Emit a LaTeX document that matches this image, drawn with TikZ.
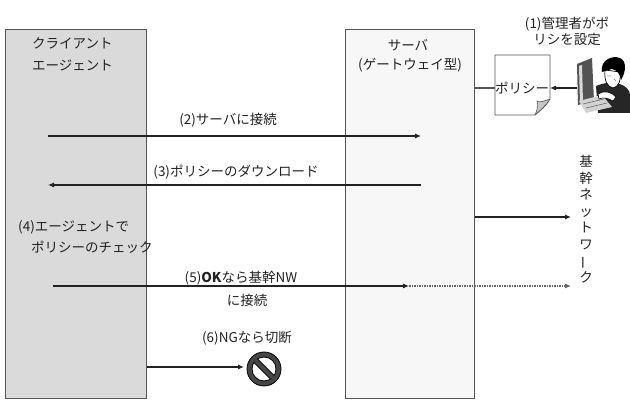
\documentclass[tikz,border=0pt]{standalone}
\usepackage{fontspec}
\setmainfont{Noto Sans CJK JP}
\usetikzlibrary{arrows.meta}
\definecolor{edge}{HTML}{555555}
\definecolor{ink}{HTML}{222222}
\definecolor{clientfill}{HTML}{DADADA}
\definecolor{serverfill}{HTML}{F7F7F7}
\tikzset{
  lbl/.style={font=\fontsize{13.5}{16}\selectfont, text=ink, inner sep=0pt},
  bigbox/.style={draw=edge, line width=1pt, inner sep=0pt, anchor=north west},
  flow/.style={draw=ink, line width=1.1pt, -{Latex[length=6pt,width=5pt]}},
  plain/.style={draw=edge, line width=1.1pt},
  dots/.style={line width=1.1pt, dash pattern=on 1.5pt off 1pt, -{Latex[length=6pt,width=5pt]}, color=gray!80!black},
}
\begin{document}
\begin{tikzpicture}[x=1pt,y=-1pt]
\useasboundingbox (0,0) rectangle (630,403);

% the two columns
\node[bigbox, fill=clientfill, minimum width=141pt, minimum height=369pt] (client) at (5,29) {};
\node[bigbox, fill=serverfill, minimum width=129pt, minimum height=369pt] (server) at (345,29) {};

\node[lbl, anchor=west] (cl1) at (32,43) {クライアント};
\node[lbl, anchor=west] (cl2) at (32,65) {エージェント};
\node[lbl] (sv1) at (408,45) {サーバ};
\node[lbl] (sv2) at (410,65) {(ゲートウェイ型)};

% administrator and policy document
\node[lbl, align=center] (adm) at (567,31) {(1)管理者がポ\\リシを設定};

\fill[white] (495,55) -- (550,55) -- (550,99) .. controls (546,106) and (541,110) .. (535,115) -- (495,115) -- cycle;
\fill[gray!45] (550,99) .. controls (544,101) and (540,103) .. (537,101) .. controls (538,107) and (537,111) .. (535,115) .. controls (541,110) and (546,106) .. (550,99) -- cycle;
\draw[edge, line width=0.8pt] (495,55) -- (550,55) -- (550,99) .. controls (546,106) and (541,110) .. (535,115) -- (495,115) -- cycle;
\draw[edge, line width=0.6pt] (550,99) .. controls (544,101) and (540,103) .. (537,101) .. controls (538,107) and (537,111) .. (535,115);
\node[lbl] (doc) at (522,88) {ポリシー};
\coordinate (docw) at (495,88);
\coordinate (doce) at (550,88);

% administrator at the keyboard
\fill[gray!65!black] (577,64) -- (592,58) -- (594,101) -- (578,105) -- cycle;
\fill[gray!30] (579,66) -- (582,65) -- (583,102) -- (580,103) -- cycle;
\fill[black!85] (596,86) .. controls (615,78) and (630,86) .. (630,95) -- (630,113) -- (598,113) -- cycle;
\fill[gray!35] (579,101) -- (602,95) -- (612,107) -- (586,113) -- cycle;
\draw[gray!70!black, line width=0.5pt] (583,104) -- (604,99) (586,108) -- (607,103);
\draw[black, line width=0.6pt, fill=white] (598,94) .. controls (604,90) and (612,92) .. (616,97) -- (613,101) .. controls (608,98) and (603,97) .. (599,99) -- cycle;
\draw[black, line width=0.7pt, fill=white] (605,70) .. controls (604,80) and (607,87) .. (613,88) .. controls (619,87) and (621,80) .. (620,72) -- cycle;
\fill[black] (602,72) .. controls (600,60) and (612,55) .. (620,58) .. controls (627,61) and (626,72) .. (621,80) .. controls (620,74) and (617,70) .. (612,69) .. controls (608,70) and (605,71) .. (602,72) -- cycle;
\draw[gray, line width=0.5pt] (607,76) -- (611,76) (614,79) -- (616,81);
\coordinate (admw) at (577,88);

\draw[plain] (server.east |- docw) -- (docw);
\draw[flow] (admw) -- (doce);

% message exchange
\coordinate (a2s) at (48,136);
\coordinate (a2e) at (421,136);
\draw[flow] (a2s) -- (a2e);
\node[lbl] (m2) at (228,120) {(2)サーバに接続};

\coordinate (a3s) at (421,185);
\coordinate (a3e) at (48,185);
\draw[flow] (a3s) -- (a3e);
\node[lbl] (m3) at (236,172) {(3)ポリシーのダウンロード};

\node[lbl, anchor=west] (m4a) at (18,227) {(4)エージェントで};
\node[lbl, anchor=west] (m4b) at (31,247) {ポリシーのチェック};

% backbone network
\coordinate (nwin) at (571,217);
\draw[flow] (server.east |- nwin) -- (nwin);
\node[lbl, align=center, font=\fontsize{13.5}{16.5}\selectfont] (nw) at (586,219)
  {基\\幹\\ネ\\ッ\\ト\\ワ\\\rotatebox[origin=c]{90}{ー}\\ク};

\coordinate (a5s) at (53,286);
\coordinate (a5m) at (409,286);
\coordinate (a5e) at (571,286);
\draw[flow] (a5s) -- (a5m);
\draw[dots] (a5m) -- (a5e);
\node[lbl] (m5a) at (241,278) {(5)\textbf{OK}なら基幹NW};
\node[lbl] (m5b) at (247,300) {に接続};

% disconnection
\node[lbl] (m6) at (247,338) {(6)NGなら切断};
\node[circle, minimum size=34pt, inner sep=0pt] (stop) at (264,369) {};
\fill[gray!55!black, even odd rule] (stop.center) circle (17pt) (stop.center) circle (12pt);
\draw[black, line width=0.8pt] (stop.center) circle (17pt) (stop.center) circle (12pt);
\begin{scope}
  \clip (stop.center) circle (12.3pt);
  \fill[gray!55!black, rotate around={-45:(stop.center)}] ([xshift=-14pt,yshift=-2.6pt]stop.center) rectangle ([xshift=14pt,yshift=2.6pt]stop.center);
  \draw[black, line width=0.8pt, rotate around={-45:(stop.center)}] ([xshift=-14pt,yshift=-2.6pt]stop.center) -- ([xshift=14pt,yshift=-2.6pt]stop.center) ([xshift=-14pt,yshift=2.6pt]stop.center) -- ([xshift=14pt,yshift=2.6pt]stop.center);
\end{scope}
\coordinate (a6e) at (244,367);
\draw[flow] (client.east |- a6e) -- (a6e);
\end{tikzpicture}
\end{document}
